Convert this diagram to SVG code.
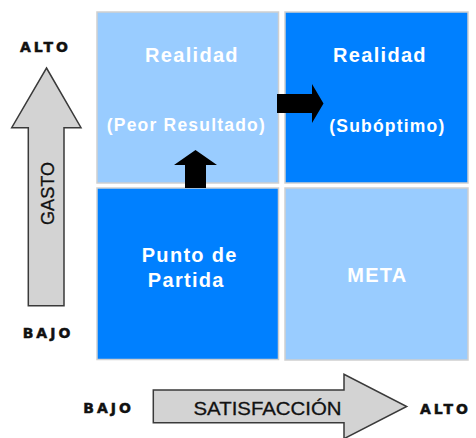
<svg xmlns="http://www.w3.org/2000/svg" width="476" height="438" viewBox="0 0 476 438">
  <style>
    .light { fill: #99ccff; stroke: #cfcfcf; stroke-width: 1.5; }
    .dark { fill: #0080ff; stroke: #cfcfcf; stroke-width: 1.5; }
    .big { font-family: "Liberation Sans", Arial, sans-serif; font-weight: bold; font-size: 20px; fill: #ffffff; text-anchor: middle; letter-spacing: 1.3px; }
    .sub { font-family: "Liberation Sans", Arial, sans-serif; font-weight: bold; font-size: 17.5px; fill: #ffffff; text-anchor: middle; letter-spacing: 1.2px; }
    .axis { font-family: "DejaVu Sans", Verdana, sans-serif; font-weight: bold; font-size: 14px; fill: #111111; stroke: #111111; stroke-width: 0.5; letter-spacing: 3px; }
    .axisname { font-family: "Liberation Sans", Arial, sans-serif; font-size: 19px; fill: #111111; stroke: #111111; stroke-width: 0.3; text-anchor: middle; }
    .bigarrow { fill: #d3d3d3; stroke: #3a3a3a; stroke-width: 1.5; stroke-linejoin: miter; }
    .blk { fill: #000000; }
  </style>
  <rect width="476" height="438" fill="#ffffff"/>

  <g id="q-peor">
    <rect class="light" x="97" y="12" width="181.5" height="171"/>
    <text class="big" x="192" y="62">Realidad</text>
    <text class="sub" x="186.4" y="131">(Peor Resultado)</text>
  </g>
  <g id="q-suboptimo">
    <rect class="dark" x="285" y="12" width="183" height="171"/>
    <text class="big" x="380" y="62">Realidad</text>
    <text class="sub" x="387.4" y="131.5">(Subóptimo)</text>
  </g>
  <g id="q-partida">
    <rect class="dark" x="97" y="188" width="181.5" height="171.5"/>
    <text class="big" x="189.7" y="261.7" letter-spacing="1">Punto de</text>
    <text class="big" x="186.3" y="286.7" letter-spacing="1">Partida</text>
  </g>
  <g id="q-meta">
    <rect class="light" x="285" y="188" width="183" height="172"/>
    <text class="big" x="377.4" y="282.3" letter-spacing="1.5">META</text>
  </g>

  <g id="connectors">
    <polygon class="blk" points="185,188 185,165 174,165 195.5,150 217,165 206,165 206,188"/>
    <polygon class="blk" points="277,94 312,94 312,84 323.5,103.5 312,123 312,113 277,113"/>
  </g>

  <g id="axis-gasto">
    <polygon class="bigarrow" points="46.5,68 81,127.7 64,127.7 64,305.7 28.3,305.7 28.3,127.7 11.7,127.7"/>
    <text class="axisname" transform="translate(54,193.5) rotate(-90)" textLength="63" lengthAdjust="spacingAndGlyphs">GASTO</text>
    <text class="axis" x="20" y="51.7">ALTO</text>
    <text class="axis" x="22.7" y="338.3">BAJO</text>
  </g>

  <g id="axis-satisfaccion">
    <polygon class="bigarrow" points="153.3,390 344,390 344,374.3 406.7,406.5 344,438.7 344,422.7 153.3,422.7"/>
    <text class="axisname" x="267.5" y="415" textLength="148" lengthAdjust="spacingAndGlyphs">SATISFACCIÓN</text>
    <text class="axis" x="83.3" y="413.3">BAJO</text>
    <text class="axis" x="420" y="413.5">ALTO</text>
  </g>
</svg>
